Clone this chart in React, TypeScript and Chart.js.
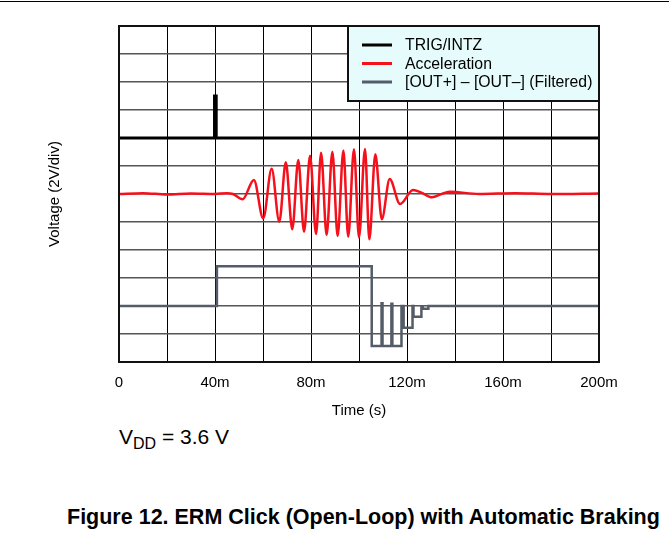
import React, { useEffect, useRef } from 'react';
import { Chart, registerables } from 'chart.js';

Chart.register(...registerables);

// ---- data (time in ms, level in grid divisions; 2 V/div) ----
const xTickLabels = ['0', '40m', '80m', '120m', '160m', '200m'];
const seriesNames = ['TRIG/INTZ', 'Acceleration', '[OUT+] – [OUT–] (Filtered)'];

const trigTime = [0, 39.8, 39.8, 40.5, 40.5, 200];
const trigLevel = [8.0, 8.0, 9.5, 9.5, 8.0, 8.0];

const accTime = [
  0, 10, 20, 30, 40, 45, 47.5, 51.5, 56.2, 60.1, 63.6, 66.8, 69.5, 72.2, 74.7, 77.1,
  79.6, 82.1, 84.2, 86.5, 88.9, 91.1, 93.5, 95.5, 97.9, 100.0, 102.5, 104.3, 106.8,
  109.5, 112.8, 117.1, 122.5, 126, 130.3, 135, 138, 150, 165, 180, 200,
];
const accLevel = [
  6.0, 6.03, 5.98, 6.02, 6.0, 6.03, 6.0, 5.81, 6.5, 5.13, 6.9, 5.01, 7.13, 4.74, 7.21, 4.65,
  7.37, 4.57, 7.47, 4.54, 7.51, 4.5, 7.55, 4.47, 7.6, 4.45, 7.61, 4.38, 7.42,
  5.1, 6.54, 5.64, 6.14, 6.05, 5.88, 6.02, 6.08, 6.0, 6.03, 6.0, 6.02,
];

const outTime = [
  0, 40.8, 40.8, 105.3, 105.3, 109.4, 109.4, 109.8, 109.8, 113.5, 113.5, 113.9, 113.9,
  117.7, 117.7, 118.6, 118.6, 122.3, 122.3, 122.7, 122.7, 126.0, 126.0, 126.6, 126.6,
  128.9, 128.9, 200,
];
const outLevel = [
  2.0, 2.0, 3.42, 3.42, 0.57, 0.57, 2.1, 2.1, 0.57, 0.57, 2.08, 2.08, 0.57,
  0.57, 2.0, 2.0, 1.22, 1.22, 2.0, 2.0, 1.62, 1.62, 1.98, 1.98, 1.9,
  1.9, 2.0, 2.0,
];

const toPoints = (t: number[], v: number[]) => t.map((x, i) => ({ x, y: v[i] }));

const FONT = "'Liberation Sans', Arial, Helvetica, sans-serif";

const framePlugin = {
  id: 'frameAndLegend',
  afterDatasetsDraw(chart: any) {
    const { ctx, chartArea } = chart;
    const { left, top, right, bottom } = chartArea;
    ctx.save();
    ctx.strokeStyle = '#111';
    ctx.lineWidth = 2;
    ctx.strokeRect(left, top, right - left, bottom - top);

    // legend box
    const lx = 348, ly = 26, lw = right - 348, lh = 75;
    ctx.fillStyle = '#e6fbfb';
    ctx.fillRect(lx, ly, lw, lh);
    ctx.strokeStyle = '#111';
    ctx.lineWidth = 2;
    ctx.strokeRect(lx, ly, lw, lh);
    const rows = [45, 63.5, 82];
    ctx.font = `15.8px ${FONT}`;
    ctx.textBaseline = 'middle';
    ctx.textAlign = 'left';
    chart.data.datasets.forEach((ds: any, i: number) => {
      ctx.strokeStyle = ds.borderColor;
      ctx.lineWidth = 3;
      ctx.beginPath();
      ctx.moveTo(362, rows[i]);
      ctx.lineTo(392, rows[i]);
      ctx.stroke();
      ctx.fillStyle = '#000';
      ctx.fillText(ds.label, 405, rows[i] + 1);
    });
    ctx.restore();
  },
};

export default function App() {
  const ref = useRef<HTMLCanvasElement>(null);

  useEffect(() => {
    if (!ref.current) return;
    const chart = new Chart(ref.current, {
      type: 'line',
      data: {
        datasets: [
          {
            label: seriesNames[0],
            data: toPoints(trigTime, trigLevel),
            borderColor: '#000000',
            borderWidth: 3,
            pointRadius: 0,
            tension: 0,
          },
          {
            label: seriesNames[1],
            data: toPoints(accTime, accLevel),
            borderColor: '#f5101c',
            borderWidth: 2.5,
            pointRadius: 0,
            cubicInterpolationMode: 'monotone',
          },
          {
            label: seriesNames[2],
            data: toPoints(outTime, outLevel),
            borderColor: '#535c68',
            borderWidth: 2.5,
            pointRadius: 0,
            tension: 0,
          },
        ] as any,
      },
      options: {
        responsive: false,
        animation: false,
        parsing: false as any,
        layout: { padding: { top: 26, right: 70, left: 0, bottom: 0 } },
        plugins: {
          legend: { display: false },
          tooltip: { enabled: false },
        },
        scales: {
          x: {
            type: 'linear',
            min: 0,
            max: 200,
            afterFit: (s: any) => { s.height = 58; },
            ticks: {
              stepSize: 20,
              autoSkip: false,
              maxRotation: 0,
              padding: 12,
              color: '#000',
              font: { family: FONT, size: 15 },
              callback: (v: any) => (Number(v) % 40 === 0 ? xTickLabels[Number(v) / 40] : ''),
            },
            grid: { color: '#000', lineWidth: 1, drawTicks: false },
            border: { color: '#111', width: 2 },
            title: {
              display: true,
              text: 'Time (s)',
              color: '#000',
              font: { family: FONT, size: 15 },
              padding: { top: 4, bottom: 0 },
            },
          },
          y: {
            type: 'linear',
            min: 0,
            max: 12,
            afterFit: (s: any) => { s.width = 119; },
            ticks: { display: false, stepSize: 1 },
            grid: { color: '#555', lineWidth: 1.5, drawTicks: false },
            border: { color: '#111', width: 2 },
            title: {
              display: true,
              text: 'Voltage (2V/div)',
              color: '#000',
              font: { family: FONT, size: 15 },
              padding: { top: 46, bottom: 0 },
            },
          },
        },
      },
      plugins: [framePlugin],
    });
    return () => chart.destroy();
  }, []);

  return (
    <div style={{ position: 'fixed', left: 0, top: 0, width: 669, height: 560, background: '#fff', fontFamily: FONT }}>
      <div style={{ position: 'absolute', left: 0, top: 1, width: 669, height: 1, background: '#000' }} />
      <canvas ref={ref} width={669} height={420} style={{ position: 'absolute', left: 0, top: 0, width: 669, height: 420 }} />
      <div style={{ position: 'absolute', left: 119, top: 425, fontSize: 21, lineHeight: '24px', color: '#000', whiteSpace: 'nowrap' }}>
        V<span style={{ fontSize: 16, position: 'relative', top: 5 }}>DD</span> = 3.6 V
      </div>
      <div style={{ position: 'absolute', left: 67, top: 504, fontSize: 21.5, lineHeight: '26px', fontWeight: 'bold', color: '#000', whiteSpace: 'nowrap' }}>
        Figure 12. ERM Click (Open-Loop) with Automatic Braking
      </div>
    </div>
  );
}
